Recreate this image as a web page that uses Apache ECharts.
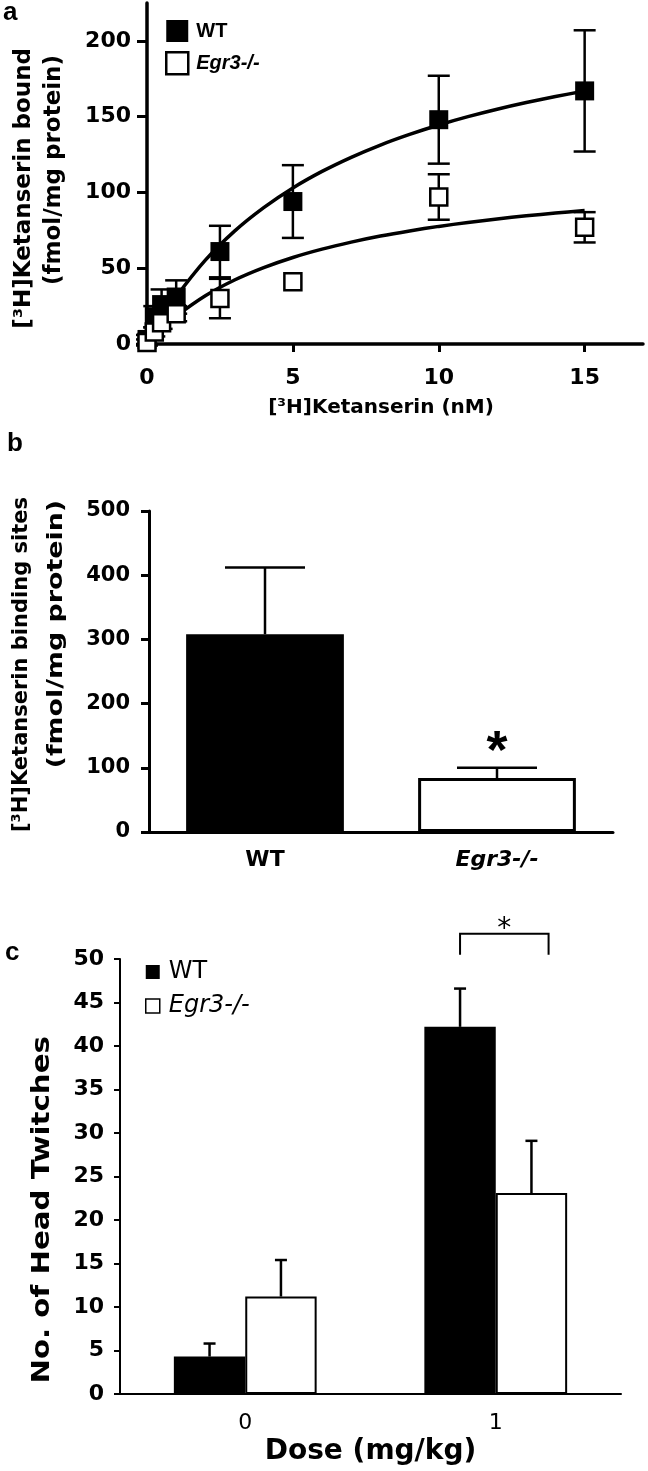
<!DOCTYPE html>
<html>
<head>
<meta charset="utf-8">
<script src="https://cdn.jsdelivr.net/npm/echarts@6/dist/echarts.min.js"></script>
<style>
  html, body { margin: 0; padding: 0; background: #fff; }
  #chart { width: 648px; height: 1471px; }
</style>
</head>
<body>
<div id="chart"></div>
<script>
// ---- panel a: saturation binding ----
var concNM = [0, 0.25, 0.5, 1, 2.5, 5, 10, 15]
var wtBound = [3, 18, 26, 31, 61, 94, 148, 167]
var wtBoundErr = [3, 7, 10, 11, 17, 24, 29, 40]
var koBound = [1, 8, 14, 20, 30, 41, 97, 77]
var koBoundErr = [2, 3, 4, 5, 13, 0, 15, 10]
// fitted curves
var fitConc = [0, 0.5, 1, 2, 3, 4, 5, 6, 7, 8, 9, 10, 11, 12, 13, 14, 15]
var wtFit = [0, 16.7, 31.2, 55.3, 74.5, 90, 103, 113.9, 123.2, 131.3, 138.3, 144.5, 150, 154.9, 159.3, 163.3, 166.9]
var koFit = [0, 9.9, 18.3, 31.8, 42.2, 50.4, 57.1, 62.6, 67.2, 71.2, 74.6, 77.6, 80.2, 82.5, 84.6, 86.4, 88.1]
var xTicksA = [0, 5, 10, 15]
var yTicksA = [0, 50, 100, 150, 200]

// ---- panel b: binding sites ----
var genotypes = ['WT', 'Egr3-/-']
var sites = [308, 84]
var sitesErr = [104, 16]
var sitesSig = ['', '*']

// ---- panel c: head twitches ----
var doses = ['0', '1']
var wtTwitch = [4.3, 42.2]
var wtTwitchErr = [1.5, 4.4]
var koTwitch = [11.2, 23.1]
var koTwitchErr = [4.2, 6.0]
// [dose index, leg bottom, bracket top, label]
var twitchSig = [[1, 50.5, 52.9, '*']]

var ARIAL = '"Liberation Sans", Arial, sans-serif'
var VERD = '"DejaVu Sans", Verdana, sans-serif'
var catGapC = 0.43

function pairs(xs, ys) {
  return xs.map(function (x, i) { return [x, ys[i]] })
}

function errRows(xs, ys, errs, both) {
  var rows = []
  xs.forEach(function (x, i) {
    if (errs[i] > 0) rows.push([x, both ? ys[i] - errs[i] : ys[i], ys[i] + errs[i]])
  })
  return rows
}

function capLine(x, y, half, w) {
  return { type: 'line', shape: { x1: x - half, y1: y, x2: x + half, y2: y }, style: { stroke: '#000', lineWidth: w } }
}

// error bar drawn through the axes; side = offset of the bar inside its category
function errorBar(half, w, side, both) {
  return function (params, api) {
    var lo = api.coord([api.value(0), api.value(1)])
    var hi = api.coord([api.value(0), api.value(2)])
    var x = lo[0]
    if (side) {
      var band = api.size([1, 0])[0]
      x += side * band * (1 - catGapC) / 4
    }
    var kids = [
      { type: 'line', shape: { x1: x, y1: lo[1], x2: x, y2: hi[1] }, style: { stroke: '#000', lineWidth: w } },
      capLine(x, hi[1], half, w)
    ]
    if (both) kids.push(capLine(x, lo[1], half, w))
    return { type: 'group', children: kids }
  }
}

// rotated axis title line, anchored at its top end
function vTitle(x, y, text, size, sx) {
  return {
    type: 'text', x: x, y: y, rotation: Math.PI / 2, scaleX: sx || 1,
    style: { text: text, font: 'bold ' + size + 'px ' + VERD, fill: '#000', align: 'right', verticalAlign: 'middle' }
  }
}

var chart = echarts.init(document.getElementById('chart'))

chart.setOption({
  animation: false,
  backgroundColor: '#fff',
  graphic: [
    { type: 'text', left: 3, top: 0, style: { text: 'a', font: 'bold 26px ' + ARIAL, fill: '#000' } },
    { type: 'text', left: 7, top: 431, style: { text: 'b', font: 'bold 26px ' + ARIAL, fill: '#000' } },
    { type: 'text', left: 5, top: 940, style: { text: 'c', font: 'bold 26px ' + ARIAL, fill: '#000' } },
    vTitle(24, 48, '[³H]Ketanserin bound', 23),
    vTitle(54, 55, '(fmol/mg protein)', 23),
    vTitle(22, 497, '[³H]Ketanserin binding sites', 21),
    vTitle(56, 500, '(fmol/mg protein)', 22, 1.22),
    vTitle(43, 1036, 'No. of Head Twitches', 24, 1.22)
  ],
  legend: [
    {
      orient: 'vertical', left: 160, top: 15, itemWidth: 22, itemHeight: 22, itemGap: 9,
      icon: 'rect', selectedMode: false,
      textStyle: { fontFamily: ARIAL, fontWeight: 'bold', fontSize: 20, color: '#000', padding: [0, 0, 0, 3] },
      data: [
        { name: 'WT', itemStyle: { color: '#000', borderColor: '#000', borderWidth: 0 } },
        { name: 'Egr3-/-', itemStyle: { color: '#fff', borderColor: '#000', borderWidth: 2.5 }, textStyle: { fontStyle: 'italic' } }
      ]
    },
    {
      orient: 'vertical', left: 140, top: 955, itemWidth: 14, itemHeight: 14, itemGap: 10,
      icon: 'rect', selectedMode: false,
      textStyle: { fontFamily: VERD, fontSize: 24, color: '#000', padding: [0, 0, 0, 4] },
      data: [
        { name: 'WT', itemStyle: { color: '#000', borderColor: '#000', borderWidth: 0 } },
        { name: 'Egr3-/-', itemStyle: { color: '#fff', borderColor: '#000', borderWidth: 1.5 }, textStyle: { fontStyle: 'italic' } }
      ]
    }
  ],
  grid: [
    { left: 147, top: 3, width: 496, height: 341 },
    { left: 149, top: 511, width: 464, height: 321 },
    { left: 120, top: 959, width: 501, height: 435 }
  ],
  xAxis: [
    {
      gridIndex: 0, type: 'value', min: 0, max: 17, interval: 5,
      splitLine: { show: false },
      axisLine: { lineStyle: { color: '#000', width: 3.5 } },
      axisTick: { length: 8, lineStyle: { width: 3 }, customValues: xTicksA },
      axisLabel: { customValues: xTicksA, margin: 23, fontFamily: VERD, fontWeight: 'bold', fontSize: 22, color: '#000' },
      name: '[³H]Ketanserin (nM)', nameLocation: 'middle', nameGap: 54,
      nameTextStyle: { fontFamily: VERD, fontWeight: 'bold', fontSize: 20, color: '#000', padding: [0, 28, 0, 0] }
    },
    {
      gridIndex: 1, type: 'category', data: genotypes,
      axisLine: { lineStyle: { color: '#000', width: 3 } },
      axisTick: { show: false },
      axisLabel: {
        margin: 17, fontFamily: VERD, fontWeight: 'bold', fontSize: 22, color: '#000',
        formatter: function (v) { return v === 'WT' ? v : '{it|' + v + '}' },
        rich: { it: { fontFamily: VERD, fontWeight: 'bold', fontStyle: 'italic', fontSize: 22, color: '#000' } }
      }
    },
    {
      gridIndex: 2, type: 'category', data: doses,
      axisLine: { lineStyle: { color: '#000', width: 2 } },
      axisTick: { length: 8, lineStyle: { width: 2 } },
      axisLabel: { margin: 18, fontFamily: VERD, fontSize: 22, color: '#000' },
      name: 'Dose (mg/kg)', nameLocation: 'middle', nameGap: 44,
      nameTextStyle: { fontFamily: VERD, fontWeight: 'bold', fontSize: 28, color: '#000' }
    }
  ],
  yAxis: [
    {
      gridIndex: 0, type: 'value', min: 0, max: 225, interval: 50,
      splitLine: { show: false },
      axisLine: { show: true, lineStyle: { color: '#000', width: 3.5 } },
      axisTick: { show: true, length: 10, lineStyle: { width: 3 }, customValues: yTicksA },
      axisLabel: { customValues: yTicksA, margin: 16, fontFamily: VERD, fontWeight: 'bold', fontSize: 22, color: '#000' }
    },
    {
      gridIndex: 1, type: 'value', min: 0, max: 500, interval: 100,
      splitLine: { show: false },
      axisLine: { show: true, lineStyle: { color: '#000', width: 3 } },
      axisTick: { show: true, length: 8, lineStyle: { width: 3 } },
      axisLabel: { margin: 19, fontFamily: VERD, fontWeight: 'bold', fontSize: 21, color: '#000' }
    },
    {
      gridIndex: 2, type: 'value', min: 0, max: 50, interval: 5,
      splitLine: { show: false },
      axisLine: { show: true, lineStyle: { color: '#000', width: 2 } },
      axisTick: { show: true, length: 6, lineStyle: { width: 2 } },
      axisLabel: { margin: 16, fontFamily: VERD, fontWeight: 'bold', fontSize: 22, color: '#000' }
    }
  ],
  series: [
    {
      name: 'WT fit', type: 'line', xAxisIndex: 0, yAxisIndex: 0, smooth: 0.3,
      showSymbol: false, data: pairs(fitConc, wtFit), lineStyle: { color: '#000', width: 3.5 }, z: 2
    },
    {
      name: 'Egr3 fit', type: 'line', xAxisIndex: 0, yAxisIndex: 0, smooth: 0.3,
      showSymbol: false, data: pairs(fitConc, koFit), lineStyle: { color: '#000', width: 3.5 }, z: 2
    },
    {
      name: 'a WT err', type: 'custom', xAxisIndex: 0, yAxisIndex: 0, z: 3,
      renderItem: errorBar(11, 2.5, 0, true), data: errRows(concNM, wtBound, wtBoundErr, true)
    },
    {
      name: 'a Egr3 err', type: 'custom', xAxisIndex: 0, yAxisIndex: 0, z: 3,
      renderItem: errorBar(11, 2.5, 0, true), data: errRows(concNM, koBound, koBoundErr, true)
    },
    {
      name: 'WT', type: 'scatter', xAxisIndex: 0, yAxisIndex: 0, symbol: 'rect', symbolSize: 19, z: 4,
      itemStyle: { color: '#000', opacity: 1 }, data: pairs(concNM, wtBound)
    },
    {
      name: 'Egr3-/-', type: 'scatter', xAxisIndex: 0, yAxisIndex: 0, symbol: 'rect', symbolSize: 17, z: 4,
      itemStyle: { color: '#fff', borderColor: '#000', borderWidth: 2.5, opacity: 1 }, data: pairs(concNM, koBound)
    },
    {
      name: 'Binding sites', type: 'bar', xAxisIndex: 1, yAxisIndex: 1, barCategoryGap: '32%',
      data: sites.map(function (v, i) {
        return { value: v, itemStyle: i === 0 ? { color: '#000', borderColor: '#000', borderWidth: 3 } : { color: '#fff', borderColor: '#000', borderWidth: 3 } }
      })
    },
    {
      name: 'b err', type: 'custom', xAxisIndex: 1, yAxisIndex: 1, z: 3,
      data: genotypes.map(function (g, i) { return [i, sites[i], sites[i] + sitesErr[i]] }),
      renderItem: function (params, api) {
        var lo = api.coord([api.value(0), api.value(1)])
        var hi = api.coord([api.value(0), api.value(2)])
        var kids = [
          { type: 'line', shape: { x1: lo[0], y1: lo[1], x2: hi[0], y2: hi[1] }, style: { stroke: '#000', lineWidth: 2.5 } },
          capLine(hi[0], hi[1], 40, 2.5)
        ]
        var sig = sitesSig[params.dataIndex]
        if (sig) {
          kids.push({ type: 'text', x: hi[0], y: hi[1] + 12, style: { text: sig, font: 'bold 54px ' + ARIAL, fill: '#000', align: 'center', verticalAlign: 'bottom' } })
        }
        return { type: 'group', children: kids }
      }
    },
    {
      name: 'WT', type: 'bar', xAxisIndex: 2, yAxisIndex: 2, barGap: '0%', barCategoryGap: (catGapC * 100) + '%',
      itemStyle: { color: '#000', borderColor: '#000', borderWidth: 2 }, data: wtTwitch
    },
    {
      name: 'Egr3-/-', type: 'bar', xAxisIndex: 2, yAxisIndex: 2, barGap: '0%', barCategoryGap: (catGapC * 100) + '%',
      itemStyle: { color: '#fff', borderColor: '#000', borderWidth: 2 }, data: koTwitch
    },
    {
      name: 'c WT err', type: 'custom', xAxisIndex: 2, yAxisIndex: 2, z: 3,
      renderItem: errorBar(6, 2.5, -1), data: errRows([0, 1], wtTwitch, wtTwitchErr, false)
    },
    {
      name: 'c Egr3 err', type: 'custom', xAxisIndex: 2, yAxisIndex: 2, z: 3,
      renderItem: errorBar(6, 2.5, 1), data: errRows([0, 1], koTwitch, koTwitchErr, false)
    },
    {
      name: 'c sig', type: 'custom', xAxisIndex: 2, yAxisIndex: 2, z: 3, clip: false,
      data: twitchSig,
      renderItem: function (params, api) {
        var c = api.coord([api.value(0), api.value(2)])
        var foot = api.coord([api.value(0), api.value(1)])
        var bw = api.size([1, 0])[0] * (1 - catGapC) / 2
        var x1 = c[0] - bw / 2
        var x2 = c[0] + bw * 0.74
        var st = { stroke: '#000', lineWidth: 2, fill: null }
        return {
          type: 'group', children: [
            { type: 'polyline', shape: { points: [[x1, foot[1]], [x1, c[1]], [x2, c[1]], [x2, foot[1]]] }, style: st },
            { type: 'text', x: (x1 + x2) / 2, y: c[1] + 10, style: { text: twitchSig[params.dataIndex][3], font: '28px ' + VERD, fill: '#000', align: 'center', verticalAlign: 'bottom' } }
          ]
        }
      }
    }
  ]
})
</script>
</body>
</html>
